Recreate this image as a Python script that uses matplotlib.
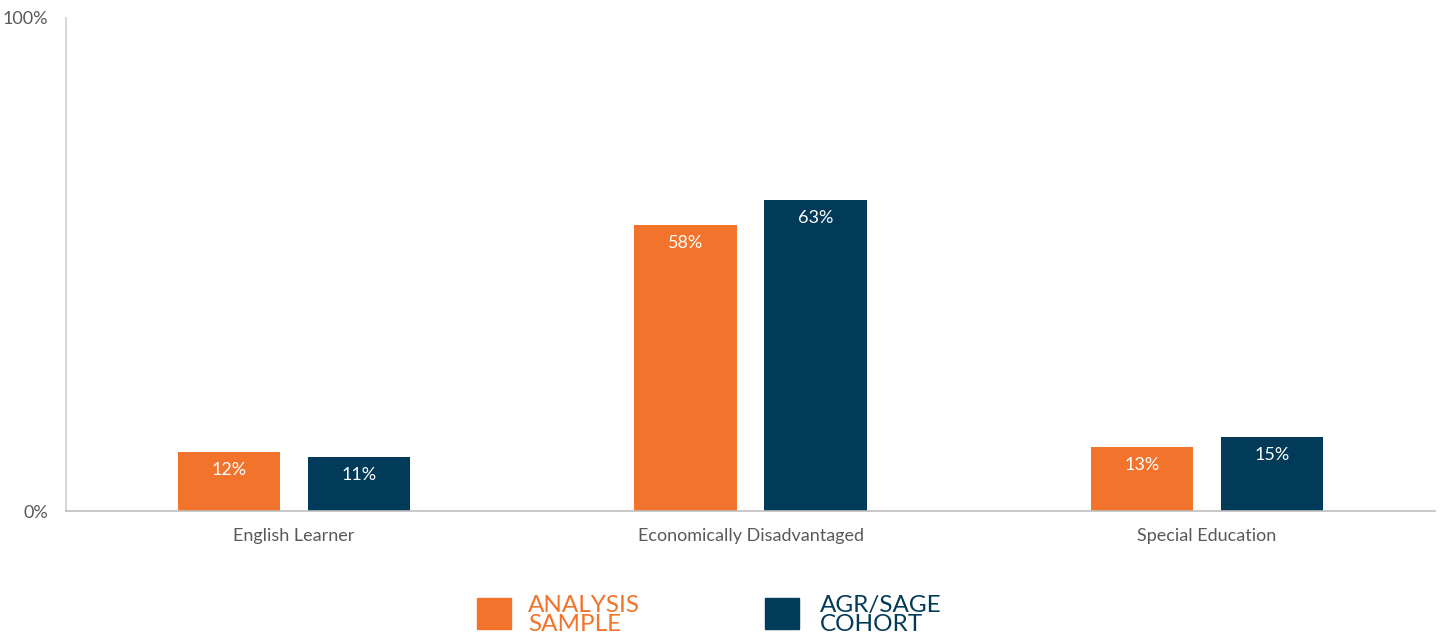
import matplotlib
matplotlib.use("Agg")
import matplotlib.pyplot as plt
from matplotlib.patches import Rectangle

categories = ["English Learner", "Economically Disadvantaged", "Special Education"]
analysis_sample = [12, 58, 13]
agr_sage_cohort = [11, 63, 15]
series_names = ["ANALYSIS\nSAMPLE", "AGR/SAGE\nCOHORT"]

ORANGE = "#F2732B"
NAVY = "#023B59"
GRAY_TEXT = "#595959"

plt.rcParams["font.family"] = ["Lato", "DejaVu Sans"]

W, H = 1443, 639
fig = plt.figure(figsize=(W / 100, H / 100), dpi=100)
ax = fig.add_axes([66 / W, 128 / H, (1435 - 66) / W, 493 / H])

x = list(range(len(categories)))
width = 0.224
offset = 0.1425
series = [analysis_sample, agr_sage_cohort]
colors = [ORANGE, NAVY]
for vals, off, col in zip(series, [-offset, offset], colors):
    bars = ax.bar([i + off for i in x], vals, width=width, color=col, zorder=2)
    for b, v in zip(bars, vals):
        ax.annotate(f"{v}%", (b.get_x() + b.get_width() / 2, v),
                    xytext=(0, -13), textcoords="offset points",
                    ha="center", va="center", color="white", fontsize=13)

ax.set_xlim(-0.5, 2.5)
ax.set_ylim(0, 100)
ax.set_yticks([0, 100])
ax.set_yticklabels(["0%", "100%"], color=GRAY_TEXT, fontsize=13)
ax.set_xticks(x)
ax.set_xticklabels(categories, color=GRAY_TEXT, fontsize=13)
ax.tick_params(axis="both", length=0)
ax.tick_params(axis="y", pad=13)
ax.tick_params(axis="x", pad=12)
for s in ["top", "right"]:
    ax.spines[s].set_visible(False)
ax.spines["left"].set_color("#CFCFCF")
ax.spines["bottom"].set_color("#BFBFBF")
ax.spines["left"].set_linewidth(1.2)
ax.spines["bottom"].set_linewidth(1.2)

# legend drawn in figure pixels
legend_items = [(477, 528), (765, 820)]
for (sx, tx), name, col in zip(legend_items, series_names, colors):
    fig.patches.append(Rectangle((sx / W, (H - 629) / H), 34 / W, 31 / H,
                                 transform=fig.transFigure, color=col))
    fig.text(tx / W, (H - 615) / H, name, color=col, fontsize=17.5,
             ha="left", va="center", linespacing=0.85)

fig.savefig("out.png", dpi=100)
